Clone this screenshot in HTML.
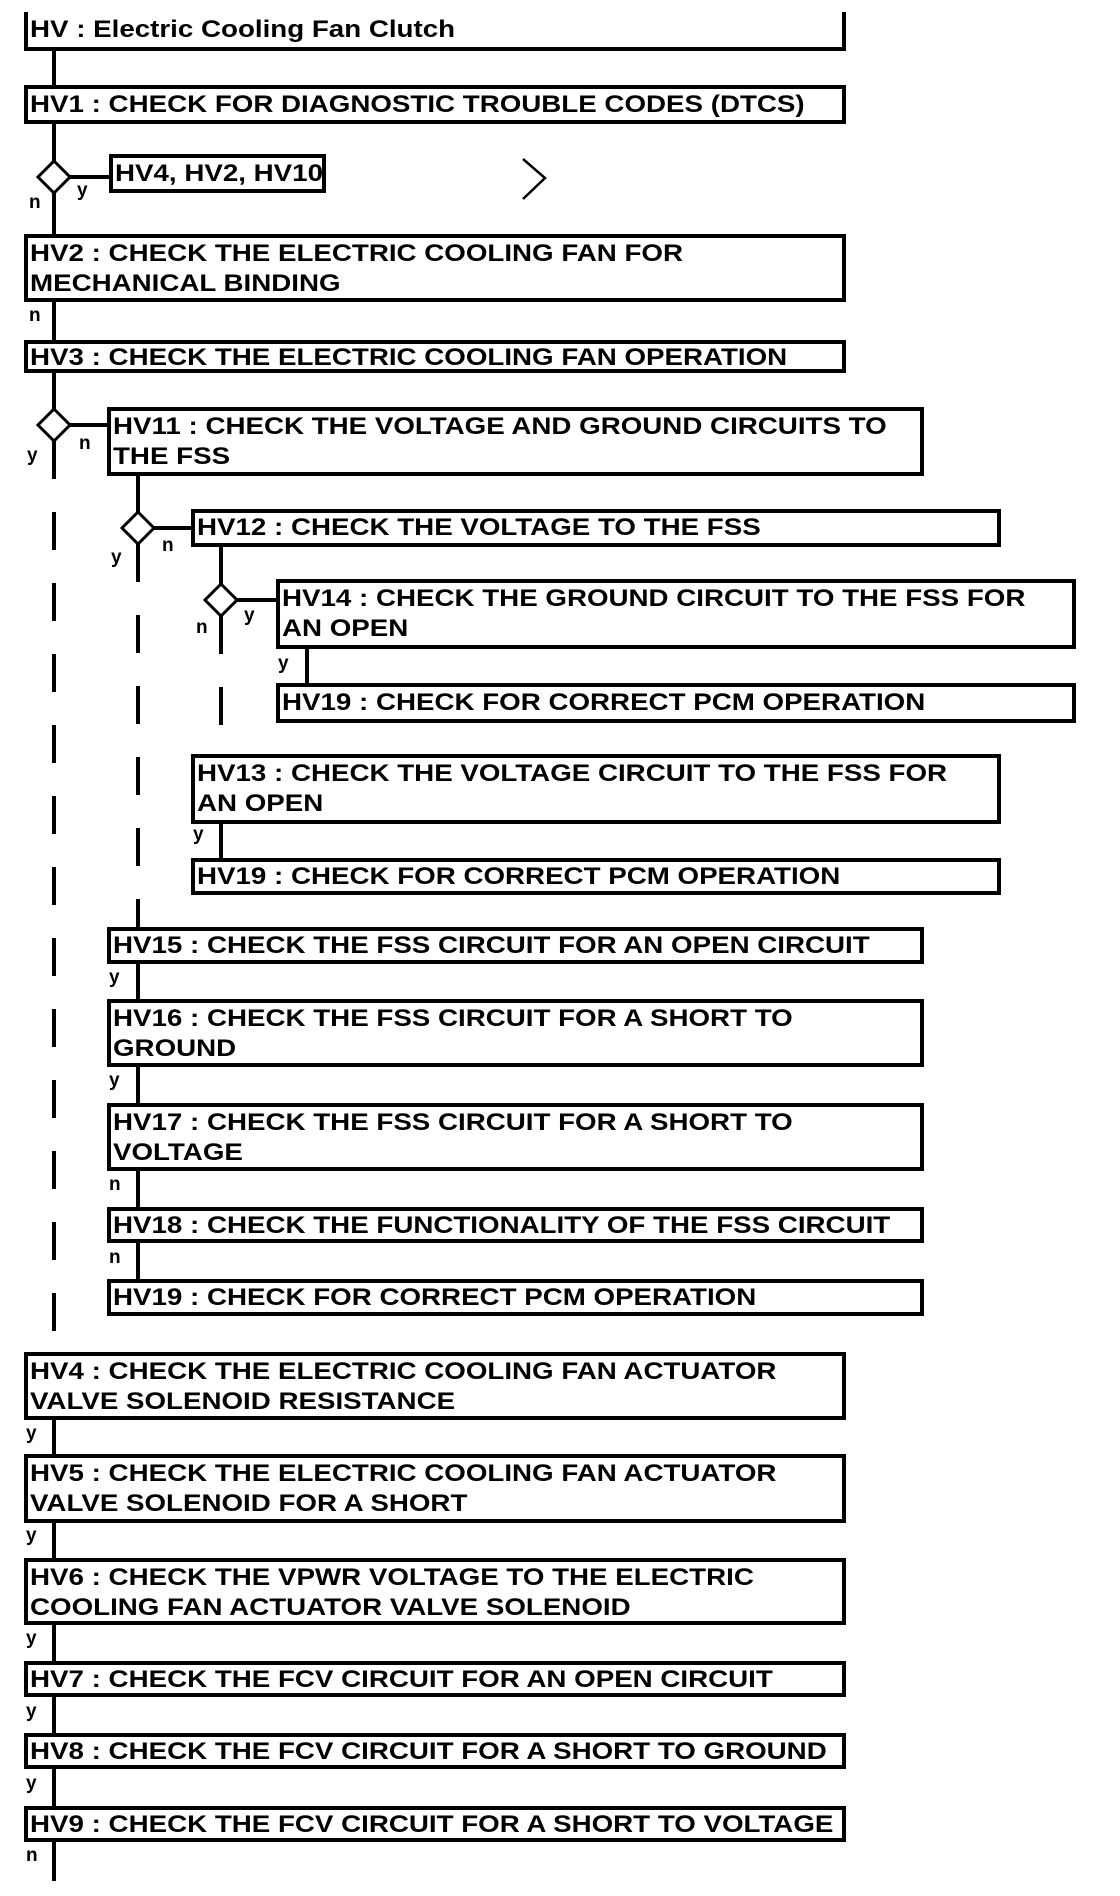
<!DOCTYPE html>
<html><head><meta charset="utf-8"><style>
html,body{margin:0;padding:0;background:#fff;}
body{width:1120px;height:1896px;position:relative;overflow:hidden;font-family:"Liberation Sans",Arial,sans-serif;font-weight:bold;color:#000;}
.b{position:absolute;box-sizing:border-box;border:4px solid #000;background:#fff;font-size:24px;line-height:30px;padding:1px 0 0 2px;white-space:nowrap;}
.b span{display:inline-block;transform:scaleX(1.155);transform-origin:0 0;}
.l{position:absolute;font-size:19px;line-height:19px;}
svg{position:absolute;left:0;top:0;}
</style></head><body>
<svg width="1120" height="1896" viewBox="0 0 1120 1896">
<g stroke="#000" stroke-width="4" fill="none">
<line x1="54" y1="50" x2="54" y2="409"/>
<line x1="54" y1="441" x2="54" y2="1352" stroke-dasharray="38 33"/>
<line x1="54" y1="1420" x2="54" y2="1881"/>
<line x1="70" y1="177" x2="109" y2="177"/>
<line x1="70" y1="425" x2="109" y2="425"/>
<line x1="138" y1="476" x2="138" y2="512"/>
<line x1="138" y1="544" x2="138" y2="927" stroke-dasharray="38 33"/>
<line x1="138" y1="963" x2="138" y2="1279"/>
<line x1="154" y1="528" x2="191" y2="528"/>
<line x1="221" y1="547" x2="221" y2="584"/>
<line x1="221" y1="616" x2="221" y2="754" stroke-dasharray="38 33"/>
<line x1="221" y1="824" x2="221" y2="858"/>
<line x1="237" y1="600" x2="276" y2="600"/>
<line x1="307" y1="649" x2="307" y2="683"/>
</g>
<g stroke="#000" stroke-width="3" fill="#fff">
<polygon points="54,161 70,177 54,193 38,177"/>
<polygon points="54,409 70,425 54,441 38,425"/>
<polygon points="138,512 154,528 138,544 122,528"/>
<polygon points="221,584 237,600 221,616 205,600"/>
</g>
<polyline points="523,159 545,178 523,199" stroke="#000" stroke-width="2.5" fill="none"/>
</svg>

<div class="b" style="left:24px;top:12px;width:822px;height:39px;border-top:none;padding-top:3px;"><span>HV : Electric Cooling Fan Clutch</span></div>
<div class="b" style="left:24px;top:85px;width:822px;height:39px;"><span>HV1 : CHECK FOR DIAGNOSTIC TROUBLE CODES (DTCS)</span></div>
<div class="b" style="left:109px;top:154px;width:217px;height:39px;"><span>HV4, HV2, HV10</span></div>
<div class="b" style="left:24px;top:234px;width:822px;height:68px;"><span>HV2 : CHECK THE ELECTRIC COOLING FAN FOR<br>MECHANICAL BINDING</span></div>
<div class="b" style="left:24px;top:340px;width:822px;height:33px;line-height:26px;"><span>HV3 : CHECK THE ELECTRIC COOLING FAN OPERATION</span></div>
<div class="b" style="left:107px;top:407px;width:817px;height:69px;"><span>HV11 : CHECK THE VOLTAGE AND GROUND CIRCUITS TO<br>THE FSS</span></div>
<div class="b" style="left:191px;top:509px;width:810px;height:38px;line-height:28px;"><span>HV12 : CHECK THE VOLTAGE TO THE FSS</span></div>
<div class="b" style="left:276px;top:579px;width:800px;height:70px;"><span>HV14 : CHECK THE GROUND CIRCUIT TO THE FSS FOR<br>AN OPEN</span></div>
<div class="b" style="left:276px;top:683px;width:800px;height:40px;"><span>HV19 : CHECK FOR CORRECT PCM OPERATION</span></div>
<div class="b" style="left:191px;top:754px;width:810px;height:70px;"><span>HV13 : CHECK THE VOLTAGE CIRCUIT TO THE FSS FOR<br>AN OPEN</span></div>
<div class="b" style="left:191px;top:858px;width:810px;height:37px;line-height:28px;"><span>HV19 : CHECK FOR CORRECT PCM OPERATION</span></div>
<div class="b" style="left:107px;top:927px;width:817px;height:37px;line-height:28px;"><span>HV15 : CHECK THE FSS CIRCUIT FOR AN OPEN CIRCUIT</span></div>
<div class="b" style="left:107px;top:999px;width:817px;height:68px;"><span>HV16 : CHECK THE FSS CIRCUIT FOR A SHORT TO<br>GROUND</span></div>
<div class="b" style="left:107px;top:1103px;width:817px;height:68px;"><span>HV17 : CHECK THE FSS CIRCUIT FOR A SHORT TO<br>VOLTAGE</span></div>
<div class="b" style="left:107px;top:1207px;width:817px;height:36px;line-height:28px;"><span>HV18 : CHECK THE FUNCTIONALITY OF THE FSS CIRCUIT</span></div>
<div class="b" style="left:107px;top:1279px;width:817px;height:37px;line-height:28px;"><span>HV19 : CHECK FOR CORRECT PCM OPERATION</span></div>
<div class="b" style="left:24px;top:1352px;width:822px;height:68px;"><span>HV4 : CHECK THE ELECTRIC COOLING FAN ACTUATOR<br>VALVE SOLENOID RESISTANCE</span></div>
<div class="b" style="left:24px;top:1454px;width:822px;height:69px;"><span>HV5 : CHECK THE ELECTRIC COOLING FAN ACTUATOR<br>VALVE SOLENOID FOR A SHORT</span></div>
<div class="b" style="left:24px;top:1558px;width:822px;height:67px;"><span>HV6 : CHECK THE VPWR VOLTAGE TO THE ELECTRIC<br>COOLING FAN ACTUATOR VALVE SOLENOID</span></div>
<div class="b" style="left:24px;top:1661px;width:822px;height:36px;line-height:28px;"><span>HV7 : CHECK THE FCV CIRCUIT FOR AN OPEN CIRCUIT</span></div>
<div class="b" style="left:24px;top:1733px;width:822px;height:36px;line-height:28px;"><span>HV8 : CHECK THE FCV CIRCUIT FOR A SHORT TO GROUND</span></div>
<div class="b" style="left:24px;top:1806px;width:822px;height:36px;line-height:28px;"><span>HV9 : CHECK THE FCV CIRCUIT FOR A SHORT TO VOLTAGE</span></div>

<div class="l" style="left:29px;top:193px;">n</div>
<div class="l" style="left:77px;top:181px;">y</div>
<div class="l" style="left:29px;top:306px;">n</div>
<div class="l" style="left:27px;top:446px;">y</div>
<div class="l" style="left:79px;top:434px;">n</div>
<div class="l" style="left:111px;top:548px;">y</div>
<div class="l" style="left:162px;top:536px;">n</div>
<div class="l" style="left:196px;top:618px;">n</div>
<div class="l" style="left:244px;top:606px;">y</div>
<div class="l" style="left:278px;top:654px;">y</div>
<div class="l" style="left:193px;top:825px;">y</div>
<div class="l" style="left:109px;top:968px;">y</div>
<div class="l" style="left:109px;top:1071px;">y</div>
<div class="l" style="left:109px;top:1175px;">n</div>
<div class="l" style="left:109px;top:1248px;">n</div>
<div class="l" style="left:26px;top:1424px;">y</div>
<div class="l" style="left:26px;top:1526px;">y</div>
<div class="l" style="left:26px;top:1629px;">y</div>
<div class="l" style="left:26px;top:1702px;">y</div>
<div class="l" style="left:26px;top:1774px;">y</div>
<div class="l" style="left:26px;top:1846px;">n</div>
</body></html>
